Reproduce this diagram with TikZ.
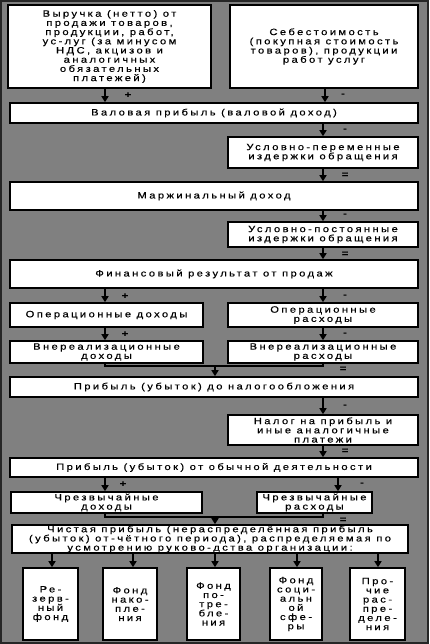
\documentclass[tikz,border=0pt]{standalone}
\usepackage{fontspec}
\setmainfont{Liberation Sans}[LetterSpace=26, FakeStretch=1.22, FakeBold=0.25]
\usetikzlibrary{arrows.meta}
\definecolor{bg}{RGB}{128,128,128}
\tikzset{
 bx/.style={draw=black, line width=1.6pt, fill=white, align=center, inner sep=0pt,
   font=\fontsize{9.2}{9.2}\selectfont},
 arr/.style={line width=1.6pt, -{Triangle[length=6pt,width=7pt]}},
 lnk/.style={line width=1.6pt},
 sg/.style={font=\fontsize{9}{9}\selectfont\bfseries, inner sep=0pt, text=black}
}
\begin{document}
\begin{tikzpicture}[x=1pt,y=-1pt]
\path[use as bounding box] (0,0) rectangle (429,644);
\fill[bg] (0,0) rectangle (429,644);
\draw[line width=2pt, black!85] (1,1) rectangle (428,643);

\node[bx, minimum width=203pt, minimum height=83pt] (A) at (109.5,46.5)
 {Выручка (нетто) от\\продажи товаров,\\продукции, работ,\\ус-луг (за минусом\\НДС, акцизов и\\аналогичных\\обязательных\\платежей)};
\node[bx, minimum width=188pt, minimum height=83pt] (B) at (324,46.5)
 {Себестоимость\\(покупная стоимость\\товаров), продукции\\работ услуг};
\node[bx, minimum width=408pt, minimum height=20pt] (C) at (214,113) {Валовая прибыль (валовой доход)};
\node[bx, minimum width=190pt, minimum height=31pt] (D) at (323,152.5) {Условно-переменные\\издержки обращения};
\node[bx, minimum width=408pt, minimum height=28pt] (E) at (214,196) {Маржинальный доход};
\node[bx, minimum width=190pt, minimum height=25pt] (F) at (323,234.5) {Условно-постоянные\\издержки обращения};
\node[bx, minimum width=408pt, minimum height=28pt] (G) at (214,274) {Финансовый результат от продаж};
\node[bx, minimum width=193pt, minimum height=24pt] (H) at (106.5,315) {Операционные доходы};
\node[bx, minimum width=190pt, minimum height=24pt] (I) at (323,315) {Операционные\\расходы};
\node[bx, minimum width=193pt, minimum height=22pt] (J) at (106.5,352) {Внереализационные\\доходы};
\node[bx, minimum width=190pt, minimum height=22pt] (K) at (323,352) {Внереализационные\\расходы};
\node[bx, minimum width=408pt, minimum height=20pt] (L) at (214,387) {Прибыль (убыток) до налогообложения};
\node[bx, minimum width=190pt, minimum height=30pt] (M) at (323,430) {Налог на прибыль и\\иные аналогичные\\платежи};
\node[bx, minimum width=408pt, minimum height=19pt] (N) at (214,467.5) {Прибыль (убыток) от обычной деятельности};
\node[bx, minimum width=191pt, minimum height=21pt] (O) at (106.5,502.5) {Чрезвычайные\\доходы};
\node[bx, minimum width=115pt, minimum height=21pt] (P) at (314.5,502.5) {Чрезвычайные\\расходы};
\node[bx, minimum width=396pt, minimum height=28pt] (Q) at (210,539)
 {Чистая прибыль (нераспределённая прибыль\\(убыток) от-чётного периода), распределяемая по\\усмотрению руково-дства организации:};
\node[bx, minimum width=55pt, minimum height=72pt] (R1) at (50.5,604) {Ре-\\зерв-\\ный\\фонд};
\node[bx, minimum width=54pt, minimum height=72pt] (R2) at (130,604) {Фонд\\нако-\\пле-\\ния};
\node[bx, minimum width=53pt, minimum height=72pt] (R3) at (213.5,604) {Фонд\\по-\\тре-\\бле-\\ния};
\node[bx, minimum width=52pt, minimum height=72pt] (R4) at (296,604) {Фонд\\соци-\\альн\\ой\\сфе-\\ры};
\node[bx, minimum width=55pt, minimum height=72pt] (R5) at (377.5,604) {Про-\\чие\\рас-\\пре-\\деле-\\ния};

% vertical guide coordinates
\coordinate (xl) at (105,0);
\coordinate (xr) at (323,0);
\coordinate (xb) at (325,0);
\coordinate (xm) at (215,0);
\coordinate (xp) at (338,0);
\coordinate (j1) at (0,366);
\coordinate (j2) at (0,517);

\draw[arr] (xl |- A.south) -- (xl |- C.north);
\draw[arr] (xb |- B.south) -- (xb |- C.north);
\draw[arr] (xr |- C.south) -- (xr |- D.north);
\draw[arr] (xr |- D.south) -- (xr |- E.north);
\draw[arr] (xr |- E.south) -- (xr |- F.north);
\draw[arr] (xr |- F.south) -- (xr |- G.north);
\draw[arr] (xl |- G.south) -- (xl |- H.north);
\draw[arr] (xr |- G.south) -- (xr |- I.north);
\draw[arr] (xl |- H.south) -- (xl |- J.north);
\draw[arr] (xr |- I.south) -- (xr |- K.north);
\draw[lnk] (xl |- J.south) -- (xl |- j1) -- (xr |- j1) -- (xr |- K.south);
\draw[arr] (xm |- j1) -- (xm |- L.north);
\draw[arr] (xr |- L.south) -- (xr |- M.north);
\draw[arr] (xr |- M.south) -- (xr |- N.north);
\draw[arr] (xl |- N.south) -- (xl |- O.north);
\draw[arr] (xp |- N.south) -- (xp |- P.north);
\draw[lnk] (xl |- O.south) -- (xl |- j2) -- (xr |- j2) -- (xr |- P.south);
\draw[arr] (xm |- j2) -- (xm |- Q.north);
\foreach \r/\x in {R1/52,R2/133,R3/215,R4/297,R5/378}
  \draw[arr] (\x,0 |- Q.south) -- (\x,0 |- \r.north);

% signs
\node[sg] (s1) at (128,95) {+};
\node[sg] (s2) at (343,95) {-};
\node[sg] (s3) at (345,130) {-};
\node[sg] (s4) at (345,175) {=};
\node[sg] (s5) at (345,215) {-};
\node[sg] (s6) at (345,254) {=};
\node[sg] (s7) at (125,296) {+};
\node[sg] (s8) at (345,296) {-};
\node[sg] (s9) at (125,334) {+};
\node[sg] (s10) at (345,334) {-};
\node[sg] (s11) at (343,369) {=};
\node[sg] (s12) at (345,406) {-};
\node[sg] (s13) at (345,451) {=};
\node[sg] (s14) at (123,484) {+};
\node[sg] (s15) at (362,484) {-};
\node[sg] (s16) at (343,520) {=};
\end{tikzpicture}
\end{document}
